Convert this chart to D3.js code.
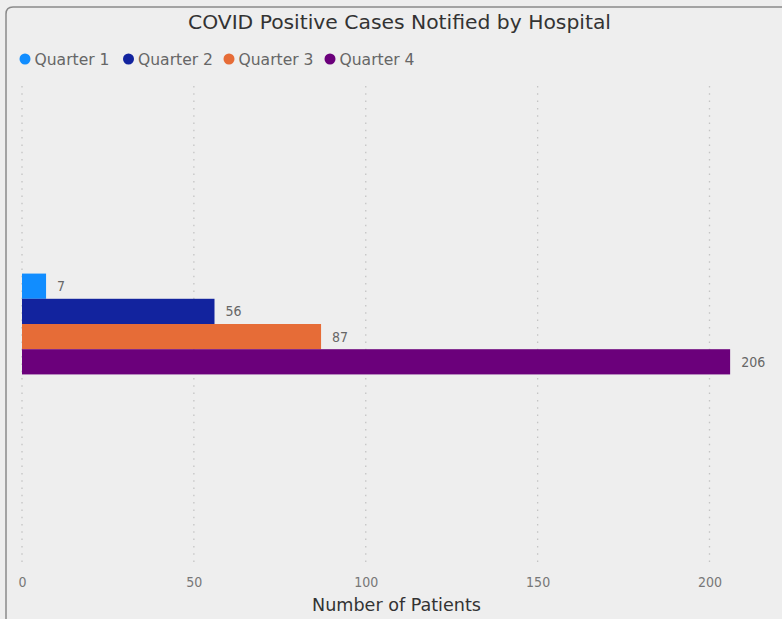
<!DOCTYPE html>
<html><head><meta charset="utf-8">
<script src="https://cdn.jsdelivr.net/npm/d3@7"></script>
<style>
html,body{margin:0;padding:0;background:#eeeeee;}
svg{display:block;}
text{font-family:"DejaVu Sans Condensed","DejaVu Sans",sans-serif;}
</style></head>
<body>
<svg id="chart" width="782" height="619"></svg>
<script>
const categories = ["Hospital"];
const seriesNames = ["Quarter 1", "Quarter 2", "Quarter 3", "Quarter 4"];
const seriesValues = [7, 56, 87, 206];
const seriesColors = ["#118dff", "#12239e", "#e66c37", "#6b007b"];
const xTicks = [0, 50, 100, 150, 200];

const W = 782, H = 619;
const svg = d3.select("#chart");

// card background + border
svg.append("rect").attr("x", 0).attr("y", 0).attr("width", W).attr("height", H).attr("fill", "#eeeeee");
svg.append("path")
  .attr("d", "M6,625 L6,14 Q6,7 13,7 L790,7")
  .attr("fill", "none").attr("stroke", "#8a8a8a").attr("stroke-width", 1.5);

// title
svg.append("text").attr("x", 188).attr("y", 29)
  .attr("font-size", 19).attr("fill", "#333")
  .attr("textLength", 423).attr("lengthAdjust", "spacingAndGlyphs")
  .text("COVID Positive Cases Notified by Hospital");

// legend
const legendX = [25, 128.5, 229, 330];
const lg = svg.append("g");
seriesNames.forEach((n, i) => {
  lg.append("circle").attr("cx", legendX[i]).attr("cy", 59).attr("r", 5.5).attr("fill", seriesColors[i]);
  lg.append("text").attr("x", legendX[i] + 9.5).attr("y", 65).attr("font-size", 15.5).attr("fill", "#666")
    .attr("textLength", 75).attr("lengthAdjust", "spacingAndGlyphs").text(n);
});

// scales
const x = d3.scaleLinear().domain([0, 200]).range([22, 709.5]);
const y = d3.scaleBand().domain(categories).range([84, 564]).paddingInner(0).paddingOuter(1.88);
const ySub = d3.scaleBand().domain(seriesNames).range([0, y.bandwidth()]);

// gridlines
const plotTop = 86, plotBottom = 567;
svg.append("g").selectAll("line").data(xTicks).join("line")
  .attr("x1", d => x(d)).attr("x2", d => x(d))
  .attr("y1", plotTop).attr("y2", plotBottom)
  .attr("stroke", "#c4c4c4").attr("stroke-width", 1.3).attr("stroke-dasharray", "1.5,5.8");

// bars
const g = svg.append("g");
categories.forEach(c => {
  seriesNames.forEach((n, i) => {
    const v = seriesValues[i];
    g.append("rect").attr("x", x(0)).attr("y", y(c) + ySub(n))
      .attr("width", x(v) - x(0)).attr("height", ySub.bandwidth())
      .attr("fill", seriesColors[i]);
    g.append("text").attr("x", x(v) + 11).attr("y", y(c) + ySub(n) + ySub.bandwidth() / 2 + 5)
      .attr("font-size", 14).attr("fill", "#666").text(v);
  });
});

// x axis
const axis = d3.axisBottom(x).tickValues(xTicks).tickSize(0).tickPadding(0);
const ax = svg.append("g").attr("transform", "translate(0,577)").call(axis);
ax.select(".domain").remove();
ax.selectAll("text").attr("font-size", 14).attr("fill", "#777").attr("dy", "0.71em")
  .style("font-family", '"DejaVu Sans Condensed","DejaVu Sans",sans-serif');

svg.append("text").attr("x", 312).attr("y", 611)
  .attr("font-size", 17).attr("fill", "#333")
  .attr("textLength", 169).attr("lengthAdjust", "spacingAndGlyphs")
  .text("Number of Patients");
</script>
</body></html>
